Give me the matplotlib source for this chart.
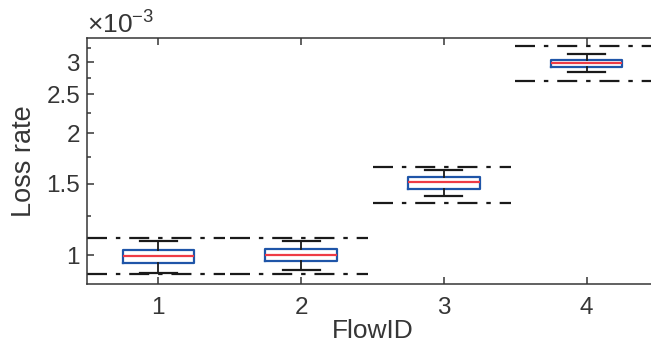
import numpy as np
import matplotlib
matplotlib.use('Agg')
import matplotlib.pyplot as plt

plt.rcParams['font.family'] = ['Liberation Sans', 'DejaVu Sans']
plt.rcParams['mathtext.fontset'] = 'custom'
plt.rcParams['mathtext.rm'] = 'Liberation Sans'

## loss rate per flow, in units of 1e-3
flows = [1, 2, 3, 4]
med = [0.996, 1.002, 1.514, 2.993]
q1 = [0.957, 0.966, 1.457, 2.926]
q3 = [1.029, 1.033, 1.557, 3.040]
wlo = [0.904, 0.918, 1.397, 2.844]
whi = [1.085, 1.085, 1.624, 3.140]
## dash-dot bounds per flow
bound_lo = [0.899, 0.899, 1.348, 2.697]
bound_hi = [1.100, 1.100, 1.649, 3.300]

yticks = [1, 1.5, 2, 2.5, 3]
yminor = [1.25, 1.75, 2.25, 2.75, 3.25]

scale = 1e-3
gray = '#363636'

fig = plt.figure(figsize=(6.51, 3.45), dpi=100)
ax = fig.add_axes([0.1336, 0.1768, 0.8772, 0.7122])

stats = []
for i in range(len(flows)):
    stats.append(dict(med=med[i]*scale, q1=q1[i]*scale, q3=q3[i]*scale,
                      whislo=wlo[i]*scale, whishi=whi[i]*scale, fliers=[]))

ax.bxp(stats, positions=flows, widths=0.5, showfliers=False,
       boxprops=dict(color='#1f55a8', linewidth=1.6),
       medianprops=dict(color='#ee3b45', linewidth=1.6),
       whiskerprops=dict(color='#1a1a1a', linewidth=1.3),
       capprops=dict(color='#1a1a1a', linewidth=1.6),
       capwidths=0.26)

for x, lo, hi in zip(flows, bound_lo, bound_hi):
    ax.hlines([lo*scale, hi*scale], x - 0.5, x + 0.47, colors='#1a1a1a',
              linewidth=1.6, linestyles=(0, (9, 4, 2, 4)))

ax.set_yscale('log')
ax.set_xlim(0.5, 4.5)
ax.set_ylim(0.848e-3, 3.44e-3)
ax.set_yticks([t*scale for t in yticks])
ax.set_yticklabels([('%g' % t) for t in yticks])
ax.set_yticks([t*scale for t in yminor], minor=True)
ax.yaxis.set_minor_formatter(matplotlib.ticker.NullFormatter())
ax.set_xticks(flows)
ax.set_xticklabels([str(f) for f in flows])

for s in ax.spines.values():
    s.set_color(gray)
    s.set_linewidth(1.1)
ax.tick_params(which='both', direction='in', colors=gray, labelsize=17.5,
               top=True, right=True, width=1.1)
ax.tick_params(which='major', length=5)
ax.tick_params(which='minor', length=3)
ax.tick_params(axis='x', pad=9)
ax.tick_params(axis='y', pad=5)

ax.set_xlabel('FlowID', fontsize=19, color=gray, labelpad=0)
ax.set_ylabel('Loss rate', fontsize=19.5, color=gray, labelpad=7)
ax.text(0.0, 1.02, r'$\times\mathregular{10^{-3}}$', transform=ax.transAxes,
        fontsize=19, color=gray, ha='left', va='baseline')

fig.savefig('out.png', dpi=100)
